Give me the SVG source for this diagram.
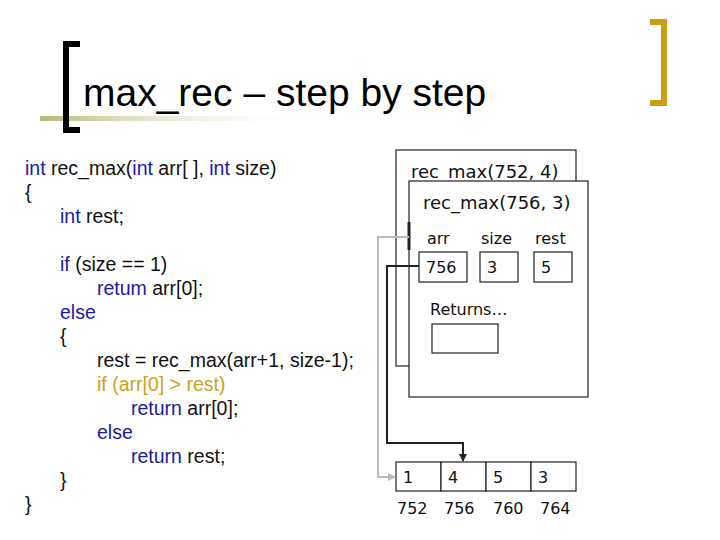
<svg xmlns="http://www.w3.org/2000/svg" width="720" height="540" viewBox="0 0 720 540">
<defs>
<linearGradient id="ul" x1="0" x2="1" y1="0" y2="0"><stop offset="0" stop-color="#b8b87a"/><stop offset="1" stop-color="#ffffff" stop-opacity="0"/></linearGradient>
<marker id="ab" markerWidth="8" markerHeight="8" refX="7" refY="4" orient="auto" markerUnits="userSpaceOnUse"><path d="M0,0 L8,4 L0,8 z" fill="#222"/></marker>
<marker id="ag" markerWidth="8" markerHeight="8" refX="7" refY="4" orient="auto" markerUnits="userSpaceOnUse"><path d="M0,0 L8,4 L0,8 z" fill="#bbb"/></marker>
<style>
text{font-family:"Liberation Sans",Arial,sans-serif;}
.c{font-size:19.5px;fill:#111;}
.k{fill:#1a1aa0;}
.y{fill:#c9a41a;}
.t{font-family:Tahoma,"DejaVu Sans",sans-serif;font-size:18px;fill:#111;}
.s{font-family:Tahoma,"DejaVu Sans",sans-serif;font-size:16px;fill:#111;}
.b{fill:#fff;stroke:#222;stroke-width:1.2;}
</style>
</defs>
<rect width="720" height="540" fill="#fff"/>
<g id="title">
<rect x="40" y="116" width="280" height="5" fill="url(#ul)"/>
<path d="M80,44 H66 V130 H80" fill="none" stroke="#000" stroke-width="6"/>
<path d="M650,22 H664 V103 H650" fill="none" stroke="#c9a014" stroke-width="6"/>
<text x="83" y="106" font-size="39" fill="#000">max_rec – step by step</text>
</g>
<g id="code" class="c">
<text x="25" y="175"><tspan class="k">int</tspan> rec_max(<tspan class="k">int</tspan> arr[ ], <tspan class="k">int</tspan> size)</text>
<text x="25" y="199">{</text>
<text x="60" y="223"><tspan class="k">int</tspan> rest;</text>
<text x="60" y="271"><tspan class="k">if</tspan> (size == 1)</text>
<text x="97" y="295"><tspan class="k">retum</tspan> arr[0];</text>
<text x="60" y="319" class="k">else</text>
<text x="60" y="343">{</text>
<text x="97" y="367">rest = rec_max(arr+1, size-1);</text>
<text x="97" y="391" class="y">if (arr[0] &gt; rest)</text>
<text x="131" y="415"><tspan class="k">return</tspan> arr[0];</text>
<text x="97" y="439" class="k">else</text>
<text x="131" y="463"><tspan class="k">return</tspan> rest;</text>
<text x="60" y="487">}</text>
<text x="25" y="511">}</text>
</g>
<g id="frame1">
<rect class="b" x="396" y="150" width="180" height="216"/>
<text class="t" x="411" y="178">rec_max(752, 4)</text>
</g>
<g id="frame2">
<rect class="b" x="409" y="181" width="179" height="216"/>
<line x1="409" y1="222" x2="409" y2="250" stroke="#222" stroke-width="3"/>
<text class="t" x="423" y="209">rec_max(756, 3)</text>
<text class="s" x="427" y="244">arr</text>
<text class="s" x="481" y="244">size</text>
<text class="s" x="535" y="244">rest</text>
<rect class="b" x="419" y="252" width="48" height="30"/>
<rect class="b" x="480" y="252" width="38" height="30"/>
<rect class="b" x="534" y="252" width="38" height="30"/>
<text class="s" x="426" y="273">756</text>
<text class="s" x="487" y="273">3</text>
<text class="s" x="541" y="273">5</text>
<text class="s" x="430" y="315">Returns…</text>
<rect class="b" x="432" y="324" width="66" height="29"/>
</g>
<g id="array">
<rect class="b" x="396" y="462" width="45" height="29"/>
<rect class="b" x="441" y="462" width="45" height="29"/>
<rect class="b" x="486" y="462" width="45" height="29"/>
<rect class="b" x="531" y="462" width="45" height="29"/>
<text class="s" x="403" y="483">1</text>
<text class="s" x="448" y="483">4</text>
<text class="s" x="493" y="483">5</text>
<text class="s" x="538" y="483">3</text>
<text class="s" x="397" y="514">752</text>
<text class="s" x="444" y="514">756</text>
<text class="s" x="493" y="514">760</text>
<text class="s" x="540" y="514">764</text>
</g>
<g id="connectors" fill="none">
<path d="M409,237 H378 V477 H395" stroke="#bbb" stroke-width="2" marker-end="url(#ag)"/>
<path d="M419,266 H387 V443 H463 V461" stroke="#222" stroke-width="2" marker-end="url(#ab)"/>
</g>
</svg>
